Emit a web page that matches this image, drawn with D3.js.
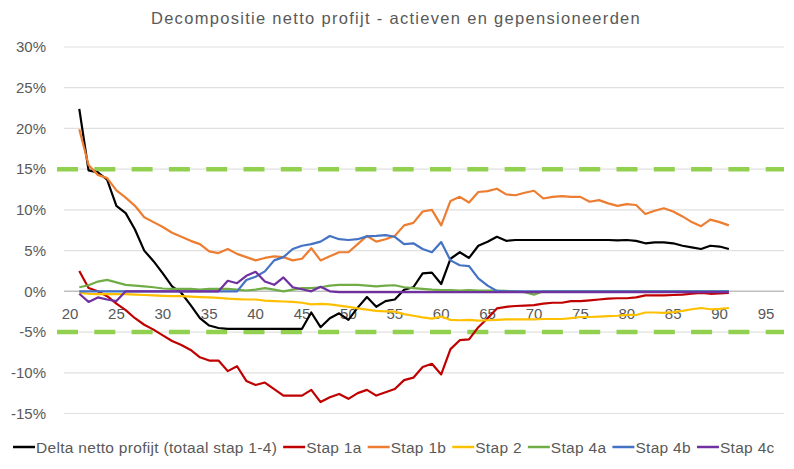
<!DOCTYPE html>
<html>
<head>
<meta charset="utf-8">
<script src="https://cdn.jsdelivr.net/npm/d3@7"></script>
<style>
  body { margin: 0; background: #fff; }
  svg text { font-family: "Liberation Sans", Arial, sans-serif; fill: #595959; }
</style>
</head>
<body>
<div id="chart"></div>
<script>
// ages 21..91
var ages = d3.range(21, 92);

var xTicks = [20, 25, 30, 35, 40, 45, 50, 55, 60, 65, 70, 75, 80, 85, 90, 95];
var yTicks = [30, 25, 20, 15, 10, 5, 0, -5, -10, -15];
var bandLines = [15, -5];

// values in %
var delta = [
  22.4, 14.85, 14.6, 13.7, 10.5, 9.6, 7.6, 5.0, 3.7, 2.2,
  0.6, -0.2, -1.7, -3.3, -4.2, -4.5, -4.6, -4.6, -4.6, -4.6,
  -4.6, -4.6, -4.6, -4.6, -4.6, -2.6, -4.4, -3.3, -2.7, -3.5,
  -2.0, -0.7, -1.9, -1.2, -1.0, 0.2, 0.5, 2.2, 2.3, 0.9,
  4.0, 4.8, 4.1, 5.6, 6.1, 6.7, 6.2, 6.3, 6.3, 6.3,
  6.3, 6.3, 6.3, 6.3, 6.3, 6.3, 6.3, 6.3, 6.25, 6.3,
  6.2, 5.9, 6.0, 6.0, 5.9, 5.6, 5.4, 5.2, 5.6, 5.5,
  5.2
];
var stap1a = [
  2.5, 0.4, 0.0, -0.6, -1.5, -2.3, -3.3, -4.1, -4.7, -5.4,
  -6.1, -6.6, -7.2, -8.1, -8.5, -8.5, -9.8, -9.2, -11.0, -11.5,
  -11.2, -12.0, -12.8, -12.8, -12.8, -12.1, -13.6, -13.0, -12.6, -13.2,
  -12.5, -12.1, -12.8, -12.4, -12.0, -10.9, -10.6, -9.3, -8.9, -10.2,
  -7.1, -6.0, -5.9, -4.4, -3.3, -2.1, -1.9, -1.8, -1.75, -1.7,
  -1.5, -1.4, -1.4, -1.2, -1.2, -1.1, -1.0, -0.9, -0.85, -0.85,
  -0.75, -0.5, -0.5, -0.5, -0.45, -0.4, -0.3, -0.2, -0.3, -0.25,
  -0.2
];
var stap1b = [
  19.9, 15.5, 14.3, 13.9, 12.4, 11.5, 10.5, 9.1, 8.5, 7.9,
  7.2, 6.7, 6.2, 5.8, 4.9, 4.7, 5.2, 4.6, 4.2, 3.8,
  4.1, 4.3, 4.2, 3.8, 4.0, 5.3, 3.8, 4.3, 4.8, 4.8,
  5.8, 6.8, 6.1, 6.4, 6.8, 8.1, 8.4, 9.8, 10.0, 8.1,
  11.1, 11.6, 10.9, 12.2, 12.3, 12.6, 11.9, 11.8, 12.1, 12.35,
  11.4, 11.6, 11.7, 11.6, 11.6, 11.0, 11.2, 10.8, 10.5, 10.7,
  10.6, 9.5, 9.9, 10.2, 9.8, 9.2, 8.5, 8.0, 8.8, 8.5,
  8.1
];
var stap2 = [
  -0.2, -0.3, -0.35, -0.35, -0.35, -0.35, -0.4, -0.45, -0.5, -0.55,
  -0.6, -0.6, -0.65, -0.7, -0.75, -0.8, -0.9, -0.95, -1.0, -1.0,
  -1.15, -1.2, -1.25, -1.3, -1.4, -1.6, -1.55, -1.6, -1.75, -1.9,
  -2.1, -2.25, -2.4, -2.45, -2.5, -2.8, -3.0, -3.2, -3.35, -3.1,
  -3.5, -3.55, -3.5, -3.6, -3.55, -3.5, -3.45, -3.45, -3.45, -3.45,
  -3.4, -3.4, -3.4, -3.3, -3.15, -3.15, -3.1, -3.05, -3.0, -2.9,
  -2.9, -2.6, -2.6, -2.65, -2.55, -2.4, -2.2, -2.05, -2.2, -2.15,
  -2.05
];
var stap4a = [
  0.5, 0.75, 1.2, 1.4, 1.1, 0.8, 0.7, 0.6, 0.5, 0.35,
  0.3, 0.3, 0.3, 0.2, 0.3, 0.3, 0.3, 0.2, 0.1, 0.2,
  0.4, 0.2, 0.0, 0.2, 0.4, 0.4, 0.5, 0.7, 0.8, 0.8,
  0.8, 0.7, 0.6, 0.7, 0.75, 0.5, 0.4, 0.3, 0.2, 0.15,
  0.15, 0.1, 0.15, 0.1, 0.1, 0.1, 0.05, 0.0, -0.1, -0.4,
  0, 0, 0, 0, 0, 0, 0, 0, 0, 0,
  0, 0, 0, 0, 0, 0, 0, 0, 0, 0,
  0
];
var stap4b = [
  0, 0, 0, 0, 0, 0, 0, 0, 0, 0,
  0, 0, 0, 0, 0, 0, 0, 0, 1.4, 1.8,
  2.45, 3.8, 4.2, 5.2, 5.6, 5.8, 6.1, 6.8, 6.4, 6.3,
  6.4, 6.75, 6.8, 6.9, 6.7, 5.8, 5.9, 5.2, 4.8, 6.05,
  3.8, 3.2, 3.1, 1.6, 0.7, 0.05, 0, 0, 0, 0,
  0, 0, 0, 0, 0, 0, 0, 0, 0, 0,
  0, 0, 0, 0, 0, 0, 0, 0, 0, 0,
  0
];
var stap4c = [
  -0.3, -1.3, -0.75, -1.0, -1.2, 0, 0, 0, 0, 0,
  0, 0, 0, 0, 0, 0, 1.3, 1.0, 1.9, 2.4,
  1.2, 0.8, 1.7, 0.5, 0.25, 0.0, 0.55, 0, -0.1, -0.1,
  -0.1, -0.1, -0.1, -0.1, -0.1, -0.1, -0.1, -0.1, -0.1, -0.1,
  -0.1, -0.1, -0.1, -0.1, -0.1, -0.1, -0.1, -0.1, -0.1, -0.1,
  -0.1, -0.1, -0.1, -0.1, -0.1, -0.1, -0.1, -0.1, -0.1, -0.1,
  -0.1, -0.1, -0.1, -0.1, -0.1, -0.1, -0.1, -0.1, -0.1, -0.1,
  -0.1
];

var seriesNames = ["Delta netto profijt (totaal stap 1-4)", "Stap 1a", "Stap 1b", "Stap 2", "Stap 4a", "Stap 4b", "Stap 4c"];
var seriesValues = [delta, stap1a, stap1b, stap2, stap4a, stap4b, stap4c];
var seriesColors = ["#000000", "#c00000", "#ed7d31", "#ffc000", "#70ad47", "#4472c4", "#7030a0"];

var width = 794, height = 469;
var plotLeft = 64, plotRight = 784;

var svg = d3.select("#chart").append("svg")
  .attr("width", width)
  .attr("height", height);

var x = d3.scaleLinear().domain([20, 95]).range([70, 766]);
var y = d3.scaleLinear().domain([-15, 30]).range([413.5, 47]);

// title
svg.append("text")
  .attr("x", 396)
  .attr("y", 24)
  .attr("text-anchor", "middle")
  .style("font-size", "16.5px")
  .style("letter-spacing", "1.3px")
  .text("Decompositie netto profijt - actieven en gepensioneerden");

// gridlines
svg.append("g")
  .selectAll("line")
  .data(yTicks)
  .enter().append("line")
  .attr("x1", plotLeft)
  .attr("x2", plotRight)
  .attr("y1", function(d) { return y(d); })
  .attr("y2", function(d) { return y(d); })
  .attr("stroke", function(d) { return d === 0 ? "#bfbfbf" : "#e0e0e0"; })
  .attr("stroke-width", function(d) { return d === 0 ? 1.5 : 1.2; });

// y labels
svg.append("g")
  .selectAll("text")
  .data(yTicks)
  .enter().append("text")
  .attr("x", 46)
  .attr("y", function(d) { return y(d); })
  .attr("dy", "0.35em")
  .attr("text-anchor", "end")
  .style("font-size", "15px")
  .text(function(d) { return d + "%"; });

// x labels, sitting under the 0% line
svg.append("g")
  .selectAll("text")
  .data(xTicks)
  .enter().append("text")
  .attr("x", function(d) { return x(d); })
  .attr("y", y(0) + 28)
  .attr("text-anchor", "middle")
  .style("font-size", "15px")
  .text(function(d) { return d; });

// green dashed band lines
svg.append("g")
  .selectAll("line")
  .data(bandLines)
  .enter().append("line")
  .attr("x1", 57)
  .attr("x2", plotRight)
  .attr("y1", function(d) { return y(d); })
  .attr("y2", function(d) { return y(d); })
  .attr("stroke", "#92d050")
  .attr("stroke-width", 4.5)
  .attr("stroke-dasharray", "21,16.3");

// series lines
var line = d3.line()
  .x(function(d, i) { return x(ages[i]); })
  .y(function(d) { return y(d); });

svg.append("g")
  .selectAll("path")
  .data(seriesValues)
  .enter().append("path")
  .attr("fill", "none")
  .attr("stroke", function(d, i) { return seriesColors[i]; })
  .attr("stroke-width", 2.2)
  .attr("stroke-linejoin", "round")
  .attr("d", line);

// legend
var legend = svg.append("g");
var lx = 13, ly = 447;
seriesNames.forEach(function(name, i) {
  legend.append("line")
    .attr("x1", lx).attr("x2", lx + 22)
    .attr("y1", ly).attr("y2", ly)
    .attr("stroke", seriesColors[i])
    .attr("stroke-width", 2.5);
  var t = legend.append("text")
    .attr("x", lx + 23)
    .attr("y", ly + 5.5)
    .style("font-size", "15.5px")
    .style("letter-spacing", "0.3px")
    .text(name);
  lx += 23 + t.node().getComputedTextLength() + 6;
});
</script>
</body>
</html>
